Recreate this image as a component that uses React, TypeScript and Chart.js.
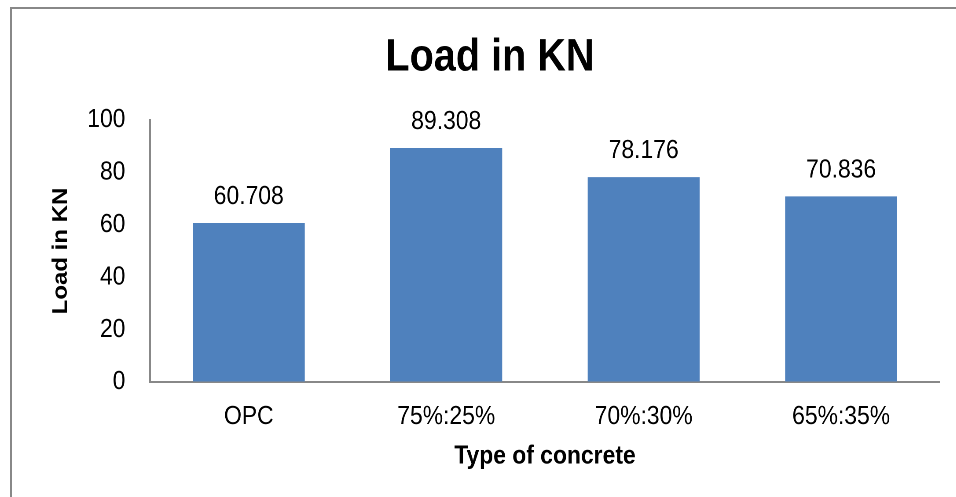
import React, { useEffect, useRef } from "react";
import { Chart, registerables } from "chart.js";

Chart.register(...registerables);

const categories = ["OPC", "75%:25%", "70%:30%", "65%:35%"];
const loadValues = [60.708, 89.308, 78.176, 70.836];
const valueLabels = ["60.708", "89.308", "78.176", "70.836"];
const yTicks = [0, 20, 40, 60, 80, 100];

const FONT = "'Liberation Sans', Arial, sans-serif";
// The reference uses a narrow face; emulate it by squeezing the canvas horizontally.
const SQUEEZE = 0.88;
const LOGICAL_W = Math.round(956 / SQUEEZE);
const H = 497;

const dataLabelPlugin = {
  id: "dataLabels",
  afterDatasetsDraw(chart: any) {
    const ctx = chart.ctx;
    const meta = chart.getDatasetMeta(0);
    ctx.save();
    ctx.font = `26px ${FONT}`;
    ctx.fillStyle = "#000";
    ctx.textAlign = "center";
    ctx.textBaseline = "alphabetic";
    meta.data.forEach((bar: any, i: number) => {
      ctx.fillText(valueLabels[i], bar.x, bar.y - 19);
    });
    ctx.restore();
  },
};

export default function App() {
  const ref = useRef<HTMLCanvasElement | null>(null);
  useEffect(() => {
    if (!ref.current) return;
    const chart = new Chart(ref.current, {
      type: "bar",
      data: {
        labels: categories,
        datasets: [
          {
            label: "Load in KN",
            data: loadValues,
            backgroundColor: "#4F81BD",
            borderWidth: 0,
            categoryPercentage: 1,
            barPercentage: 0.567,
          },
        ],
      },
      options: {
        responsive: false,
        animation: false,
        devicePixelRatio: 2,
        layout: { padding: { left: 45.5, right: 18, top: 0, bottom: 0 } },
        plugins: {
          legend: { display: false },
          tooltip: { enabled: false },
          title: {
            display: true,
            text: "Load in KN",
            color: "#000",
            font: { family: FONT, size: 45, weight: "bold" },
            padding: { top: 31, bottom: 35 },
          },
        },
        scales: {
          x: {
            grid: { display: true, drawOnChartArea: false, drawTicks: false, tickLength: 0 },
            border: { display: true, color: "#888", width: 2 },
            ticks: { color: "#000", font: { family: FONT, size: 26 }, padding: 19, maxRotation: 0 },
            title: {
              display: true,
              text: "Type of concrete",
              color: "#000",
              font: { family: FONT, size: 26, weight: "bold" },
              padding: { top: 0, bottom: 25 },
            },
            afterFit(scale: any) {
              scale.height = 115;
            },
          },
          y: {
            min: 0,
            max: 100,
            grid: { display: true, drawOnChartArea: false, drawTicks: false, tickLength: 0 },
            border: { display: true, color: "#888", width: 2 },
            afterBuildTicks(scale: any) {
              scale.ticks = yTicks.map((v) => ({ value: v }));
            },
            ticks: { color: "#000", font: { family: FONT, size: 26 }, padding: 28 },
            title: {
              display: true,
              text: "Load in KN",
              color: "#000",
              font: { family: FONT, size: 24, weight: "bold" },
              padding: { top: 9.5, bottom: 0 },
            },
            afterFit(scale: any) {
              scale.width = 125;
            },
          },
        },
      },
      plugins: [dataLabelPlugin],
    });
    return () => chart.destroy();
  }, []);

  return (
    <div
      style={{
        position: "fixed",
        left: 0,
        top: 0,
        width: 956,
        height: H,
        overflow: "hidden",
        background: "#fff",
      }}
    >
      <div
        style={{
          position: "absolute",
          left: 10,
          top: 7,
          width: 1000,
          height: 600,
          border: "2px solid #888",
          boxSizing: "border-box",
        }}
      />
      <div
        style={{
          position: "absolute",
          left: 0,
          top: 0,
          width: LOGICAL_W,
          height: H,
          transform: `scaleX(${SQUEEZE})`,
          transformOrigin: "0 0",
        }}
      >
        <canvas ref={ref} width={LOGICAL_W} height={H} />
      </div>
    </div>
  );
}
